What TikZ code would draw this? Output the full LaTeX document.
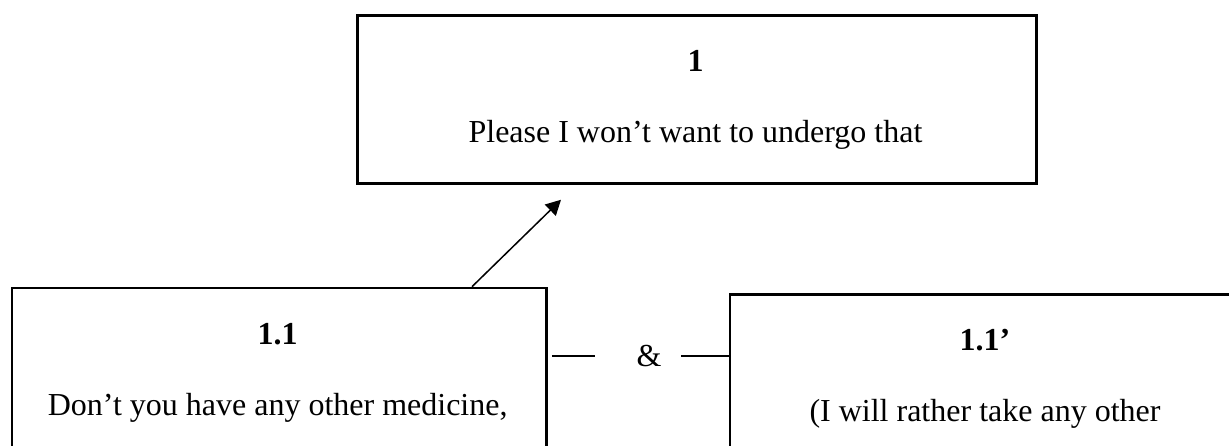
\documentclass[tikz,border=0pt]{standalone}
\usepackage{fontspec}
\setmainfont{Liberation Serif}
\usetikzlibrary{arrows.meta,calc}

\begin{document}
\begin{tikzpicture}[
  x=0.4pt, y=-0.4pt,
  font=\fontsize{12.8}{15}\selectfont,
  box/.style={draw, line width=1.1pt, rectangle, inner sep=0pt, anchor=north west},
  label/.style={anchor=base, inner sep=0pt},
  link/.style={line width=0.6pt},
  arrowlink/.style={line width=0.6pt, -{Triangle[length=6pt,width=6.2pt]}}
]
\useasboundingbox (0,0) rectangle (1229,446);
\clip (0,0) rectangle (1229,446);

% boxes
\node[box, minimum width=679*0.4pt, minimum height=168*0.4pt] (b1) at (356,14) {};
\node[box, minimum width=534.5*0.4pt, minimum height=240*0.4pt] (b11) at (10.5,286.7) {};
\node[box, minimum width=512*0.4pt, minimum height=240*0.4pt] (b1p) at (728.7,293) {};

% texts
\node[label] (n1) at (695.5,72) {\textbf{1}};
\node[label] (t1) at (695.5,143) {Please I won’t want to undergo that};
\node[label] (n11) at (277.7,345) {\textbf{1.1}};
\node[label] (t11) at (277.7,416) {Don’t you have any other medicine,};
\node[label] (n1p) at (985,351) {\textbf{1.1’}};
\node[label] (t1p) at (985,422) {(I will rather take any other};

% conjunction between the two reasons
\node[inner sep=0pt] (amp) at (649,356) {\&};
\draw[link] ($(b11.east |- amp)+(4,0)$) -- ($(amp.center)+(-54,0)$);
\draw[link] ($(amp.center)+(32,0)$) -- (b1p.west |- amp);

% support arrow
\draw[arrowlink] ($(b11.north west)+(461.5,0)$) -- ($(b1.south west)+(205,15)$);
\end{tikzpicture}
\end{document}
